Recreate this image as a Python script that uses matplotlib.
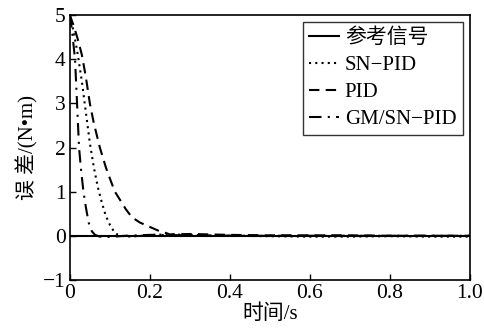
import matplotlib
matplotlib.use("Agg")
import matplotlib.pyplot as plt

plt.rcParams['font.family'] = ['Liberation Serif', 'Noto Sans CJK SC']
plt.rcParams['axes.unicode_minus'] = True

# reference signal
ref_t = [0, 1.0]
ref_y = [0, 0]

# SN-PID
sn_t = [0, 0.01, 0.02, 0.03, 0.04, 0.05, 0.06, 0.07, 0.08, 0.09, 0.1, 0.11, 0.12,
        0.14, 0.17, 0.2, 0.25, 0.3, 0.4, 0.5, 0.6, 0.7, 0.8, 0.9, 1.0]
sn_y = [5, 4.6, 4.1, 3.5, 2.8, 2.1, 1.55, 1.1, 0.75, 0.45, 0.25, 0.1, 0.02,
        -0.02, -0.01, 0.02, 0.03, 0.02, 0.0, -0.01, -0.02, -0.02, -0.01, -0.02, -0.02]

# PID
pid_t = [0, 0.01, 0.02, 0.03, 0.04, 0.05, 0.06, 0.075, 0.09, 0.1, 0.1125, 0.125,
         0.14, 0.155, 0.175, 0.2, 0.22, 0.235, 0.25, 0.3, 0.4, 0.5, 0.6, 0.7, 0.8, 0.9, 1.0]
pid_y = [5, 4.75, 4.45, 4.1, 3.6, 3.0, 2.55, 2.0, 1.55, 1.3, 1.0, 0.82,
         0.6, 0.42, 0.3, 0.2, 0.12, 0.08, 0.03, 0.04, 0.02, 0.01, 0.01, 0.01, 0.0, 0.0, 0.0]

# GM/SN-PID
gm_t = [0, 0.006, 0.013, 0.018, 0.023, 0.028, 0.034, 0.04, 0.047, 0.055, 0.063,
        0.075, 0.09, 0.11, 0.14, 0.2, 0.3, 0.45, 0.6, 0.8, 1.0]
gm_y = [5, 4.6, 4.0, 3.0, 2.0, 1.5, 1.0, 0.65, 0.3, 0.1, 0.02,
        -0.02, -0.03, -0.02, 0.0, 0.02, 0.01, 0.0, 0.0, 0.0, 0.0]

xticks = [0, 0.2, 0.4, 0.6, 0.8, 1.0]
xticklabels = ['0', '0.2', '0.4', '0.6', '0.8', '1.0']
yticks = [-1, 0, 1, 2, 3, 4, 5]

fig = plt.figure(figsize=(4.85, 3.36), dpi=100)
ax = fig.add_axes([0.144, 0.167, 0.825, 0.788])

ax.plot(ref_t, ref_y, color='black', lw=1.5, ls='-', label='参考信号')
ax.plot(sn_t, sn_y, color='black', lw=1.5, ls=(0, (1, 2)), label='SN−PID')
ax.plot(pid_t, pid_y, color='black', lw=1.5, ls=(0, (5, 3)), label='PID')
ax.plot(gm_t, gm_y, color='black', lw=1.5, ls=(0, (6, 3, 1, 3)), label='GM/SN−PID')

ax.set_xlim(0, 1.0)
ax.set_ylim(-1, 5)
ax.set_xticks(xticks)
ax.set_xticklabels(xticklabels)
ax.set_yticks(yticks)
ax.tick_params(direction='in', length=4, labelsize=15.5, width=1, pad=3)
for s in ax.spines.values():
    s.set_linewidth(1.2)

ax.set_xlabel('时间/s', fontsize=15, labelpad=1)
ax.set_ylabel('误 差/(N•m)', fontsize=15, labelpad=3)

leg = ax.legend(loc='upper right', fontsize=15, frameon=True, fancybox=False,
                edgecolor='black', handlelength=1.4, handletextpad=0.3,
                borderpad=0.3, labelspacing=0.35, borderaxespad=0.35)
leg.get_frame().set_linewidth(1.0)

fig.savefig('out.png', dpi=100)
